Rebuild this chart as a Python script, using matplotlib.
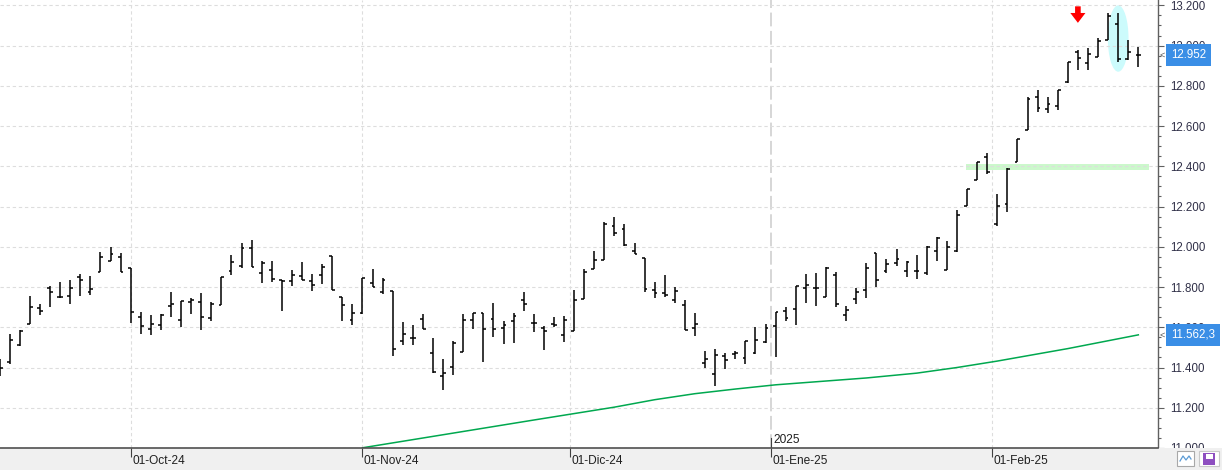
import numpy as np
import matplotlib
matplotlib.use("Agg")
import matplotlib.pyplot as plt
import matplotlib.transforms as mtransforms
from matplotlib.patches import Rectangle, Ellipse, Polygon
from matplotlib.lines import Line2D
from matplotlib.ticker import MultipleLocator, FuncFormatter

# daily OHLC, one bar per trading day (Sep-24 .. Feb-25)
opens = [11380, 11426, 11512, 11618, 11697, 11797, 11751, 11756, 11848, 11776,
         11875, 11929, 11947, 11895, 11652, 11590, 11613, 11707, 11637, 11728,
         11728, 11647, 11712, 11880, 11906, 11993, 11870, 11885, 11835, 11830,
         11855, 11830, 11860, 11955, 11748, 11637, 11669, 11820, 11776, 11782,
         11534, 11548, 11642, 11474, 11360, 11402, 11478, 11638, 11673, 11643,
         11598, 11633, 11737, 11623, 11598, 11618, 11564, 11582, 11742, 11891,
         11936, 12104, 12089, 11980, 11944, 11783, 11772, 11737, 11713, 11598,
         11420, 11370, 11459, 11469, 11449, 11473, 11529, 11608, 11682, 11692,
         11796, 11796, 11749, 11860, 11662, 11741, 11786, 11970, 11880, 11919,
         11880, 11882, 11869, 11978, 11885, 11977, 12201, 12331, 12445, 12115,
         12214, 12420, 12579, 12743, 12683, 12698, 12818, 12967, 12914, 12942,
         13028, 13106, 12932, 12952]
highs = [11440, 11567, 11588, 11753, 11718, 11807, 11827, 11837, 11866, 11857,
         11974, 12000, 11970, 11895, 11674, 11662, 11667, 11777, 11731, 11743,
         11768, 11728, 11850, 11959, 12018, 12035, 11931, 11931, 11835, 11885,
         11924, 11865, 11914, 11955, 11749, 11716, 11843, 11890, 11845, 11782,
         11624, 11613, 11664, 11548, 11440, 11532, 11664, 11673, 11673, 11722,
         11631, 11673, 11774, 11664, 11608, 11653, 11655, 11787, 11888, 11980,
         12124, 12150, 12114, 12021, 11946, 11823, 11861, 11798, 11736, 11669,
         11481, 11491, 11474, 11484, 11530, 11599, 11614, 11674, 11700, 11807,
         11866, 11871, 11899, 11875, 11707, 11797, 11921, 11970, 11941, 11990,
         11929, 11960, 12003, 12050, 12028, 12181, 12287, 12420, 12464, 12264,
         12391, 12538, 12743, 12779, 12743, 12779, 12920, 12978, 12986, 13036,
         13160, 13160, 13026, 12995]
lows = [11360, 11418, 11507, 11618, 11660, 11703, 11745, 11715, 11753, 11759,
        11875, 11929, 11875, 11621, 11566, 11562, 11588, 11651, 11601, 11667,
        11588, 11631, 11712, 11860, 11893, 11899, 11819, 11824, 11680, 11804,
        11834, 11779, 11815, 11787, 11631, 11611, 11667, 11799, 11764, 11458,
        11512, 11512, 11593, 11375, 11290, 11362, 11478, 11592, 11428, 11552,
        11517, 11522, 11681, 11577, 11488, 11602, 11527, 11582, 11742, 11891,
        11936, 12053, 12003, 11963, 11777, 11747, 11752, 11719, 11588, 11555,
        11398, 11309, 11393, 11443, 11418, 11466, 11522, 11453, 11631, 11609,
        11720, 11705, 11749, 11700, 11631, 11715, 11745, 11799, 11870, 11904,
        11850, 11840, 11860, 11928, 11885, 11973, 12201, 12331, 12361, 12105,
        12173, 12420, 12579, 12672, 12665, 12680, 12816, 12879, 12880, 12942,
        13026, 12917, 12927, 12895]
closes = [11400, 11537, 11580, 11702, 11682, 11776, 11748, 11796, 11835, 11791,
          11951, 11964, 11875, 11674, 11608, 11618, 11659, 11718, 11731, 11738,
          11652, 11718, 11850, 11924, 11993, 11899, 11919, 11840, 11830, 11860,
          11835, 11810, 11899, 11787, 11712, 11672, 11843, 11799, 11835, 11494,
          11568, 11548, 11593, 11379, 11375, 11524, 11638, 11673, 11593, 11593,
          11613, 11658, 11714, 11623, 11583, 11613, 11638, 11737, 11874, 11936,
          12114, 12069, 12010, 11963, 11792, 11769, 11759, 11782, 11588, 11618,
          11440, 11464, 11435, 11474, 11530, 11535, 11595, 11674, 11646, 11807,
          11812, 11796, 11896, 11718, 11685, 11776, 11896, 11835, 11914, 11939,
          11926, 11882, 11997, 12045, 11997, 12156, 12287, 12420, 12372, 12204,
          12387, 12537, 12736, 12688, 12708, 12779, 12917, 12937, 12958, 13021,
          13147, 12932, 12967, 12952]

# moving average (bar index, value)
ma_idx = [36, 45, 53, 61, 65, 69, 73, 77, 86, 91, 95, 99, 106, 113]
ma_val = [11001, 11074, 11139, 11203, 11240, 11270, 11293, 11314, 11348, 11372, 11400, 11432, 11494, 11562.3]

month_labels = ['01-Oct-24', '01-Nov-24', '01-Dic-24', '01-Ene-25', '01-Feb-25']
month_pos = [13, 36, 56.63, 76.52, 98.45]
year_label = '2025'
year_at = 3

# drawings on the chart
zone_from, zone_to = 95.9, 114.06
zone_low, zone_high = 12382, 12411
ellipse_bar, ellipse_price = 111, 13035
arrow_bar, arrow_top = 107, 13195

plt.rcParams['font.family'] = ['Liberation Sans', 'DejaVu Sans']

W, H = 1222, 470
fig = plt.figure(figsize=(W / 100, H / 100), dpi=100)
ax = fig.add_axes([0, 22 / H, 1158 / W, 448 / H])
x = np.arange(len(closes))
ax.set_xlim(0.03, 114.95)
ax.set_ylim(11000, 13226.5)

# grid
ax.set_yticks(np.arange(11000, 13201, 200))
ax.yaxis.set_minor_locator(MultipleLocator(50))
ax.grid(axis='y', which='major', color='#dddddd', lw=0.8, ls=(0, (3, 2.5)))
for i, p in enumerate(month_pos):
    if i == year_at:
        ax.axvline(p, color='#cccccc', lw=1.1, ls=(0, (9, 3)), zorder=0.5)
    else:
        ax.axvline(p, color='#dddddd', lw=0.8, ls=(0, (3, 2.5)), zorder=0.5)

# annotations behind the bars
ax.add_patch(Rectangle((zone_from, zone_low), zone_to - zone_from, zone_high - zone_low,
                       fc='#ccf8cc', ec='none', zorder=1))
ax.add_patch(Ellipse((ellipse_bar, ellipse_price), 2.05, 330, fc='#ccfbfc', ec='none', zorder=1))
ax.add_patch(Polygon([(arrow_bar - 0.28, arrow_top), (arrow_bar + 0.28, arrow_top),
                      (arrow_bar + 0.28, arrow_top - 33), (arrow_bar + 0.75, arrow_top - 33),
                      (arrow_bar, arrow_top - 82), (arrow_bar - 0.75, arrow_top - 33),
                      (arrow_bar - 0.28, arrow_top - 33)],
                     closed=True, fc='#ff0000', ec='none', zorder=4))

# OHLC bars
ax.vlines(x, lows, highs, color='black', lw=1.1, zorder=3)
ax.hlines(opens, x - 0.28, x, color='black', lw=1.1, zorder=3)
ax.hlines(closes, x, x + 0.28, color='black', lw=1.1, zorder=3)

# moving average
ax.plot(ma_idx, ma_val, color='#00a84f', lw=1.1, zorder=2.5)

# right price axis
ax.yaxis.tick_right()
ax.yaxis.set_major_formatter(FuncFormatter(lambda v, _: f"{v:,.0f}".replace(',', '.')))
ax.tick_params(axis='y', which='major', length=4.5, width=0.8, color='#606060', pad=4.0,
               labelsize=8.3, labelcolor='#303048')
ax.tick_params(axis='y', which='minor', length=2.3, width=0.8, color='#606060')
ax.tick_params(axis='x', which='both', bottom=False, labelbottom=False)
for s in ['top', 'left', 'bottom']:
    ax.spines[s].set_visible(False)
ax.spines['right'].set_color('#606060')
ax.spines['right'].set_linewidth(1.0)

ytr = ax.get_yaxis_transform()
box = dict(boxstyle='square,pad=0.45', fc='#3a8ee6', ec='none')
ax.text(1171 / 1158, closes[-1], f"{closes[-1]:,.0f}".replace(',', '.'), transform=ytr,
        ha='left', va='center', fontsize=8.3, color='white', bbox=box, clip_on=False, zorder=5)
ma_txt = f"{ma_val[-1]:,.1f}".replace(',', '#').replace('.', ',').replace('#', '.')
ax.text(1171 / 1158, ma_val[-1], ma_txt, transform=ytr,
        ha='left', va='center', fontsize=8.3, color='white', bbox=box, clip_on=False, zorder=5)
for v in [closes[-1], ma_val[-1]]:
    ax.text(1159 / 1158, v, '<', transform=ytr, ha='left', va='center', fontsize=6.5,
            color='#555555', clip_on=False, zorder=5)

# year marker
xtr = mtransforms.blended_transform_factory(ax.transData, ax.transAxes)
ax.plot([month_pos[year_at]] * 2, [0, 10 / 448], transform=xtr, color='#404040', lw=0.8,
        clip_on=False, zorder=4)
ax.text(month_pos[year_at] + 0.25, 2 / 448, year_label, transform=xtr, ha='left', va='bottom',
        fontsize=8.6, color='#202020')

# bottom date strip
band = fig.add_axes([0, 0, 1, 22 / H], zorder=2)
band.set_facecolor('#f0f0f0')
band.set_xlim(0.03, 0.03 + (114.95 - 0.03) * W / 1158)
band.set_ylim(0, 1)
for s in band.spines.values():
    s.set_visible(False)
band.set_yticks([])
band.set_xticks(month_pos)
band.tick_params(axis='x', direction='in', top=True, bottom=False, labelbottom=False,
                 length=6.5, width=0.8, color='#404040')
band.plot([0, 1158 / W], [1, 1], transform=band.transAxes, color='#505050', lw=1.2, clip_on=False)
for p, lab in zip(month_pos, month_labels):
    band.text(p + 0.15, 0.42, lab, ha='left', va='center', fontsize=8.6, color='#202020')

# small toolbar icons bottom right
fig.add_artist(Rectangle((1177 / W, 4 / H), 17 / W, 15 / H, transform=fig.transFigure,
                         fc='white', ec='#a8a8a8', lw=0.8, zorder=3))
fig.add_artist(Line2D(np.array([1180, 1183, 1186, 1189, 1191]) / W,
                      np.array([9, 14, 10, 14, 11]) / H, transform=fig.transFigure,
                      color='#5b9bd5', lw=0.9, zorder=4))
fig.add_artist(Rectangle((1199 / W, 4 / H), 20 / W, 15 / H, transform=fig.transFigure,
                         fc='white', ec='#c8c8c8', lw=0.8, zorder=3))
fig.add_artist(Rectangle((1203 / W, 5.5 / H), 12 / W, 12 / H, transform=fig.transFigure,
                         fc='#8e4fc0', ec='none', zorder=4))
fig.add_artist(Rectangle((1205.5 / W, 11.5 / H), 7 / W, 5 / H, transform=fig.transFigure,
                         fc='white', ec='none', zorder=5))

fig.savefig('out.png', dpi=100)
